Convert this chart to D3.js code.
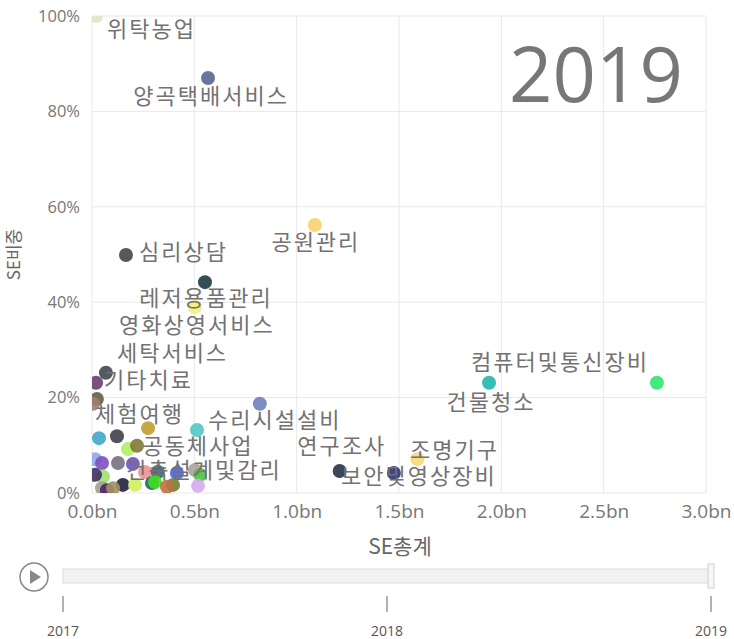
<!DOCTYPE html>
<html>
<head>
<meta charset="utf-8">
<script src="https://cdn.jsdelivr.net/npm/d3@7"></script>
<style>
  body { margin: 0; background: #fff; }
  svg { display: block; }
  .tick line { display: none; }
  .domain { display: none; }
</style>
</head>
<body>
<svg id="chart" width="734" height="639"></svg>
<script>
// industry name (null = no visible label), SE total in bn, SE share in %
const industries = [
  '위탁농업', '양곡택배서비스', '공원관리', '심리상담', '레저용품관리', '영화상영서비스',
  '세탁서비스', '기타치료', '체험여행', '컴퓨터및통신장비', '건물청소', '수리시설설비',
  '공동체사업', '건축설계및감리', '연구조사', '보안및영상장비', '조명기구',
  null, null, null, null, null, null, null, null, null, null, null, null, null,
  null, null, null, null, null, null, null, null, null, null, null, null, null
];
const seTotal = [
  0.02, 0.567, 1.089, 0.166, 0.552, 0.503,
  0.068, 0.02, 0.024, 2.76, 1.94, 0.82,
  0.513, 0.503, 1.21, 1.475, 1.59,
  0.274, 0.034, 0.122, 0.176, 0.22, 0.015, 0.049, 0.127, 0.2, 0.259, 0.322, 0.415, 0.293,
  0.308, 0.396, 0.366, 0.528, 0.518, 0.054, 0.151, 0.049, 0.21, 0.073, 0.103, 0.015, 0.005
];
const seShare = [
  100, 87.0, 56.2, 49.9, 44.2, 39.0,
  25.2, 23.1, 19.7, 23.1, 23.1, 18.7,
  13.2, 4.8, 4.6, 4.2, 7.1,
  13.6, 11.5, 11.9, 9.2, 9.9, 7.1, 6.3, 6.3, 6.1, 4.4, 4.4, 4.2, 2.1,
  2.3, 1.7, 1.3, 3.8, 1.5, 3.4, 1.7, 1.0, 1.7, 0.6, 1.0, 3.8, 18.7
];
const pointColors = [
  '#e2e3c9', '#5a6690', '#f5d36a', '#45454a', '#1e3a42', '#f2f27a',
  '#404850', '#6a4070', '#606048', '#30e870', '#20b8a8', '#7080b8',
  '#50c8c0', '#b0a0a0', '#2a3248', '#2c3478', '#f5d878',
  '#c0a030', '#40a8c8', '#404048', '#b0f060', '#807838', '#90a8e8', '#8050c0', '#787080', '#7050c8', '#f09090', '#306080', '#5060d8', '#206868',
  '#40e020', '#708030', '#c07040', '#50c040', '#d8a8f0', '#a0e070', '#202040', '#a0a090', '#d0f060', '#502070', '#a09060', '#403060', '#a08070'
];
const xTickValues = [0, 0.5, 1, 1.5, 2, 2.5, 3];
const yTickValues = [0, 20, 40, 60, 80, 100];
const years = ['2017', '2018', '2019'];
const currentYear = '2019';

// where each label sits relative to its point: [dx, dy, anchor]
const labelPlacement = {
  '위탁농업': [11, 21, 'start'],
  '양곡택배서비스': [3, 26, 'middle'],
  '공원관리': [1, 25, 'middle'],
  '심리상담': [13, 5, 'start'],
  '레저용품관리': [1, 24, 'middle'],
  '영화상영서비스': [2, 26, 'middle'],
  '세탁서비스': [11, -12, 'start'],
  '기타치료': [8, 5, 'start'],
  '체험여행': [-2, 23, 'start'],
  '컴퓨터및통신장비': [-8, -13, 'end'],
  '건물청소': [2, 27, 'middle'],
  '수리시설설비': [15, 24, 'middle'],
  '공동체사업': [1, 24, 'middle'],
  '건축설계및감리': [9, 8, 'middle'],
  '연구조사': [2, -17, 'middle'],
  '보안및영상장비': [25, 11, 'middle'],
  '조명기구': [37, -1, 'middle']
};

const points = industries.map((name, i) => ({
  name: name, total: seTotal[i], share: seShare[i], color: pointColors[i]
}));

const svg = d3.select('#chart');
const margin = { top: 16, right: 28, bottom: 146, left: 92 };
const width = 734, height = 639;

const x = d3.scaleLinear().domain([0, 3]).range([margin.left, width - margin.right]);
const y = d3.scaleLinear().domain([0, 100]).range([height - margin.bottom, margin.top]);

// grid
const grid = svg.append('g').attr('stroke', '#e8e8e8').attr('stroke-width', 1);
grid.selectAll('.gx').data(xTickValues).join('line')
  .attr('x1', d => x(d)).attr('x2', d => x(d))
  .attr('y1', y(0)).attr('y2', y(100));
grid.selectAll('.gy').data(yTickValues).join('line')
  .attr('x1', x(0)).attr('x2', x(3))
  .attr('y1', d => y(d)).attr('y2', d => y(d));

// big year
svg.append('text')
  .attr('x', 596).attr('y', 102)
  .attr('text-anchor', 'middle')
  .attr('font-family', 'Open Sans, sans-serif')
  .attr('font-size', 76)
  .attr('fill', '#777')
  .text(currentYear);

// axes
svg.append('g')
  .attr('transform', `translate(0,${y(0)})`)
  .call(d3.axisBottom(x).tickValues(xTickValues).tickSize(0).tickPadding(12)
    .tickFormat(d => d.toFixed(1) + 'bn'))
  .call(g => g.selectAll('text')
    .attr('font-family', 'Open Sans, sans-serif')
    .attr('font-size', 19).attr('fill', '#777'));

svg.append('g')
  .attr('transform', `translate(${x(0)},0)`)
  .call(d3.axisLeft(y).tickValues(yTickValues).tickSize(0).tickPadding(12)
    .tickFormat(d => d + '%'))
  .call(g => g.selectAll('text')
    .attr('font-family', 'Open Sans, sans-serif')
    .attr('font-size', 16.5).attr('fill', '#777'));

svg.append('text')
  .attr('x', 400).attr('y', 554)
  .attr('text-anchor', 'middle')
  .attr('font-family', 'Noto Sans CJK KR, sans-serif')
  .attr('font-size', 21).attr('fill', '#666')
  .text('SE총계');

svg.append('text')
  .attr('transform', `translate(20,${(y(0) + y(100)) / 2}) rotate(-90)`)
  .attr('text-anchor', 'middle')
  .attr('font-family', 'Noto Sans CJK KR, sans-serif')
  .attr('font-size', 17).attr('fill', '#666')
  .text('SE비중');

// points
svg.append('clipPath').attr('id', 'plot-clip')
  .append('rect')
  .attr('x', x(0)).attr('y', y(100))
  .attr('width', x(3) - x(0)).attr('height', y(0) - y(100));

svg.append('g')
  .attr('clip-path', 'url(#plot-clip)')
  .selectAll('circle')
  .data(points)
  .join('circle')
  .attr('cx', d => x(d.total))
  .attr('cy', d => y(d.share))
  .attr('r', 7)
  .attr('fill', d => d.color)
  .attr('fill-opacity', 0.9);

// labels
svg.append('g')
  .selectAll('text')
  .data(points.filter(d => d.name))
  .join('text')
  .attr('x', d => x(d.total) + labelPlacement[d.name][0])
  .attr('y', d => y(d.share) + labelPlacement[d.name][1])
  .attr('text-anchor', d => labelPlacement[d.name][2])
  .attr('font-family', 'Noto Sans CJK KR, sans-serif')
  .attr('font-size', 22)
  .attr('letter-spacing', 2)
  .attr('fill', '#727272')
  .text(d => d.name);

// play axis
const slider = d3.scalePoint().domain(years).range([63, 711]);

const play = svg.append('g').attr('transform', 'translate(34,577)');
play.append('circle').attr('r', 14).attr('fill', '#fff')
  .attr('stroke', '#888').attr('stroke-width', 1.5);
play.append('path').attr('d', 'M-4,-7 L7,0 L-4,7 Z').attr('fill', '#888');

svg.append('rect')
  .attr('x', slider(years[0])).attr('y', 569)
  .attr('width', slider(years[years.length - 1]) - slider(years[0])).attr('height', 14)
  .attr('fill', '#f2f2f2').attr('stroke', '#dcdcdc');

svg.append('rect')
  .attr('x', slider(currentYear) - 3).attr('y', 564)
  .attr('width', 6).attr('height', 24)
  .attr('fill', '#f7f7f7').attr('stroke', '#cfcfcf');

const yearTicks = svg.append('g').selectAll('g').data(years).join('g')
  .attr('transform', d => `translate(${slider(d)},0)`);
yearTicks.append('line')
  .attr('y1', 596).attr('y2', 612)
  .attr('stroke', '#999').attr('stroke-width', 1.5);
yearTicks.append('text')
  .attr('y', 636).attr('text-anchor', 'middle')
  .attr('font-family', 'Open Sans, sans-serif')
  .attr('font-size', 14).attr('fill', '#555')
  .text(d => d);
</script>
</body>
</html>
